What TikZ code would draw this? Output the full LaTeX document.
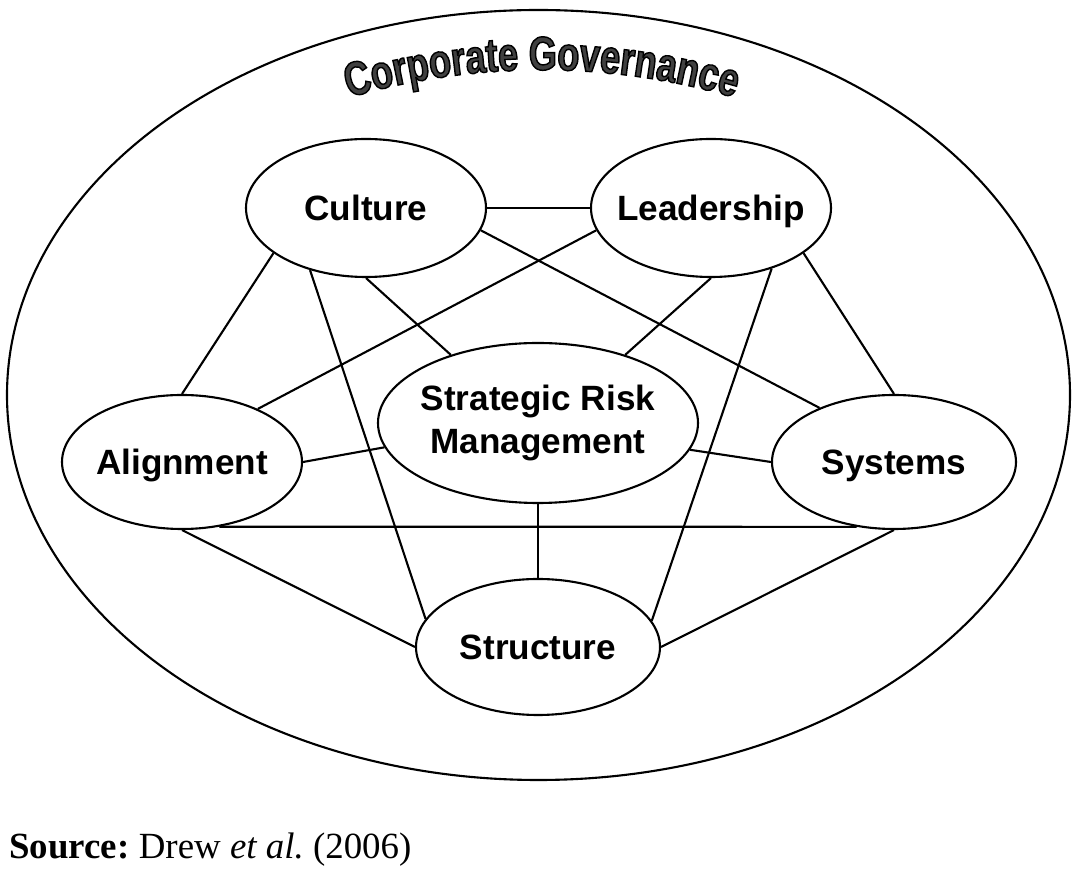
\documentclass[tikz,border=0pt]{standalone}
\usepackage{fontspec}
\setmainfont{Liberation Serif}
\newfontfamily\labelfont{Liberation Sans}
\newfontface\titlefont{Liberation Sans Bold}[FakeStretch=0.76,FakeBold=3]
\usepackage{xcolor}
\usepackage{tikz}
\usetikzlibrary{calc,positioning,shapes.geometric,decorations.text}
\frenchspacing

\begin{document}
\begin{tikzpicture}[
    factor/.style={draw,ellipse,line width=1.2pt,inner xsep=-0.3cm,inner ysep=0pt,minimum width=4.8cm,minimum height=2.72cm,align=center,font=\labelfont\bfseries\fontsize{20}{24.4}\selectfont},
    single/.style={factor,text height=14.3pt,text depth=0pt},
    link/.style={line width=1.2pt}
  ]

  \useasboundingbox (0,0) rectangle (21.58,-17.42);

  % Governance
  \path (10.77,-7.90) node[draw,ellipse,line width=1.2pt,minimum width=21.26cm,minimum height=15.40cm] (governance) {};
  \path[decorate,decoration={text along path,text align=center,text={|\titlefont\fontsize{27}{32}\selectfont\color{black!75}\special{pdf:literal direct 0 G}|Corporate Governance}}] (6.98,-1.95) arc[start angle=106.3,end angle=73.7,radius=13.74cm];

  % Factors
  \path (10.76,-8.46) node[factor,minimum width=6.4cm,minimum height=3.2cm] (risk) {Strategic Risk\\Management};
  \path (risk) +(-3.44,4.30) node[single,minimum height=2.76cm] (culture) {Culture};
  \path (risk) +(3.46,4.30) node[single,minimum height=2.76cm] (leadership) {Leadership};
  \path (risk) +(-7.12,-0.78) node[single,minimum height=2.68cm] (alignment) {Alignment};
  \path (risk) +(7.12,-0.78) node[single,minimum width=4.88cm,minimum height=2.68cm] (systems) {Systems};
  \path (risk) +(0.0,-4.48) node[single,minimum width=4.88cm] (structure) {Structure};

  % Links
  \draw[link] (culture.east) -- (leadership.west);
  \draw[link] (culture.206) -- (alignment.north);
  \draw[link] (culture.228) -- (structure.166);
  \draw[link] (culture.south) -- (risk.142);
  \draw[link] (culture.349) -- (systems.144);
  \draw[link] (leadership.191) -- (alignment.35);
  \draw[link] (leadership.south) -- (risk.38);
  \draw[link] (leadership.315) -- (structure.13);
  \draw[link] (leadership.334) -- (systems.north);
  \draw[link] (alignment.east) -- (risk.189.5);
  \draw[link] (risk.350.5) -- (systems.west);
  \draw[link] (alignment.300) -- (systems.240);
  \draw[link] (alignment.south) -- (structure.west);
  \draw[link] (systems.south) -- (structure.east);
  \draw[link] (risk.south) -- (structure.north);

  % Source
  \path (0.18,-17.18) node[anchor=base west,inner sep=0pt,font=\fontsize{21}{25}\selectfont] (source) {\textbf{Source:} Drew \textit{et al.} (2006)};

\end{tikzpicture}
\end{document}
